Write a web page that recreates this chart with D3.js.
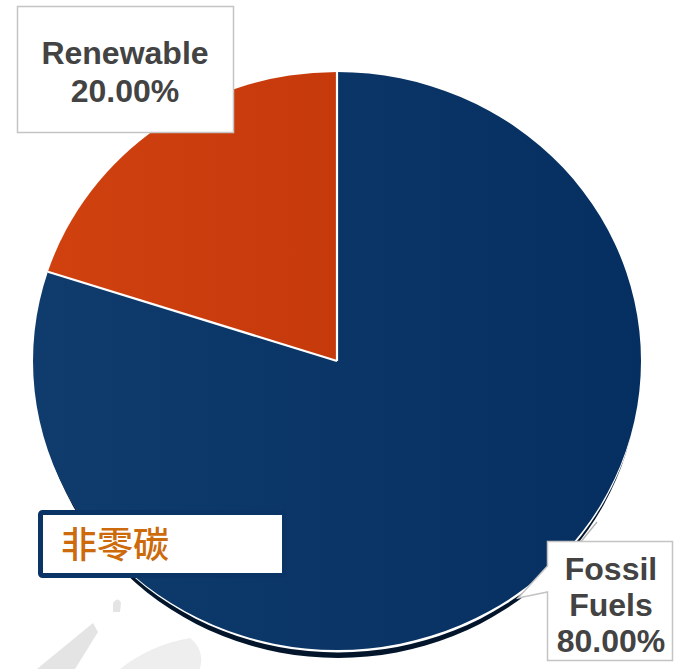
<!DOCTYPE html>
<html><head><meta charset="utf-8">
<script src="https://cdn.jsdelivr.net/npm/d3@7"></script>
<style>html,body{margin:0;padding:0;background:#fff;}svg{display:block;}</style>
</head><body>
<svg id="chart" width="676" height="669"></svg>
<script>
const categories = ["Fossil Fuels", "Renewable"];
const values = [80, 20];
const labelLines = [["Fossil", "Fuels", "80.00%"], ["Renewable", "20.00%"]];
const colors = ["#0a3466", "#c93b0d"];
const tagText = "非零碳";

const svg = d3.select("#chart");
const cx = 337, cy = 361, rx = 304, ry = 289;

const defs = svg.append("defs");
const g1 = defs.append("linearGradient").attr("id","navy").attr("x1","0").attr("x2","1").attr("y1","0").attr("y2","0");
g1.append("stop").attr("offset","0").attr("stop-color","#0f3c6d");
g1.append("stop").attr("offset","1").attr("stop-color","#052f60");
const g2 = defs.append("linearGradient").attr("id","orange").attr("x1","0").attr("x2","1").attr("y1","0").attr("y2","0");
g2.append("stop").attr("offset","0").attr("stop-color","#d0410f");
g2.append("stop").attr("offset","1").attr("stop-color","#c6390b");
const fills = ["url(#navy)", "url(#orange)"];

// faint background watermark shapes
const wm = svg.append("g").attr("fill", "#e4e4e4");
wm.append("path").attr("d", "M37,669 L93,623 L98,632 L75,669 Z");
wm.append("path").attr("d", "M113,603 Q118,596 121,603 L120,612 L113,612 Z");
wm.append("path").attr("d", "M120,669 Q150,645 190,638 Q205,650 200,669 Z").attr("fill", "#eeeeee");

// shadow + white rim
svg.append("ellipse").attr("cx", cx + 1).attr("cy", cy + 8).attr("rx", rx - 3).attr("ry", ry).attr("fill", "#03152b");
svg.append("ellipse").attr("cx", cx + 1).attr("cy", cy + 2.5).attr("rx", rx - 1).attr("ry", ry).attr("fill", "#ffffff");

const pie = d3.pie().sort(null).value(d => d)(values);
const arc = d3.arc().innerRadius(0).outerRadius(rx);
const pg = svg.append("g").attr("transform", `translate(${cx},${cy}) scale(1,${ry/rx})`);
pg.selectAll("path.slice").data(pie).join("path")
  .attr("class","slice")
  .attr("d", arc)
  .attr("fill", (d,i) => fills[i]);
// white separators
pg.selectAll("line.sep").data(pie).join("line")
  .attr("class","sep")
  .attr("x1", 0).attr("y1", 0)
  .attr("x2", d => rx * Math.sin(d.startAngle))
  .attr("y2", d => -rx * Math.cos(d.startAngle))
  .attr("stroke", "#ffffff").attr("stroke-width", 2.2)
  .attr("vector-effect", "non-scaling-stroke");

// Renewable label box
const rb = svg.append("g");
rb.append("rect").attr("x", 17.5).attr("y", 6.5).attr("width", 216).attr("height", 126)
  .attr("fill", "#fff").attr("stroke", "#c4c4c4").attr("stroke-width", 1.5);
rb.selectAll("text").data(labelLines[1]).join("text")
  .attr("x", 125).attr("y", (d,i) => 64 + i * 38)
  .attr("text-anchor", "middle")
  .attr("font-family", "Liberation Sans, Arial, sans-serif")
  .attr("font-weight", "bold").attr("font-size", 32).attr("fill", "#434343")
  .text(d => d);

// Fossil label callout
const fb = svg.append("g");
fb.append("line").attr("x1", 597).attr("y1", 522).attr("x2", 566).attr("y2", 560)
  .attr("stroke", "#b0b0b0").attr("stroke-width", 1.2);
fb.append("path")
  .attr("d", "M547.5,541.5 L672.5,541.5 L672.5,660.5 L547.5,660.5 L547.5,592 L518,598 L547.5,566 Z")
  .attr("fill", "#fff").attr("stroke", "#c4c4c4").attr("stroke-width", 1.5);
fb.selectAll("text").data(labelLines[0]).join("text")
  .attr("x", 611).attr("y", (d,i) => 580 + i * 36)
  .attr("text-anchor", "middle")
  .attr("font-family", "Liberation Sans, Arial, sans-serif")
  .attr("font-weight", "bold").attr("font-size", 32).attr("fill", "#434343")
  .text(d => d);

// tag box
const tb = svg.append("g");
tb.append("rect").attr("x", 40.5).attr("y", 512.5).attr("width", 244).attr("height", 63)
  .attr("rx", 2).attr("fill", "#fff").attr("stroke", "#0a3466").attr("stroke-width", 5);
tb.append("text").attr("x", 61).attr("y", 558)
  .attr("font-family", "Noto Sans CJK SC, sans-serif")
  .attr("font-weight", 500)
  .attr("font-size", 36).attr("fill", "#cc6a0c")
  .text(tagText);
</script>
</body></html>
